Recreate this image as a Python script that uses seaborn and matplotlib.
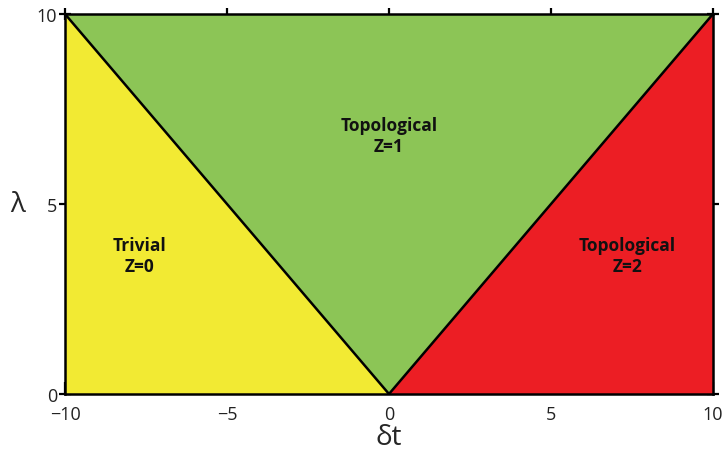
# Phase diagram: lambda vs delta t

import numpy as np
import matplotlib.pyplot as plt
import seaborn as sns

# phase regions (corners in data units)
trivial_x = [-10, -10, 0]
trivial_y = [0, 10, 0]
topo1_x = [-10, 10, 0]
topo1_y = [10, 10, 0]
topo2_x = [0, 10, 10]
topo2_y = [0, 10, 0]

# phase boundaries lambda = |delta t|
bound_x = [-10, 0, 10]
bound_y = [10, 0, 10]

labels = ["Trivial\nZ=0", "Topological\nZ=1", "Topological\nZ=2"]
label_x = [-7.7, 0.0, 7.35]
label_y = [3.65, 6.8, 3.65]

colors = ["#F2EA33", "#8CC556", "#EC1E24"]

sns.set_style("white")
plt.rcParams["font.family"] = ["Open Sans", "DejaVu Sans"]

fig = plt.figure(figsize=(7.25, 4.56), dpi=100)
ax = fig.add_axes([0.0897, 0.1338, 0.8937, 0.8332])

for xs, ys, c in zip([trivial_x, topo1_x, topo2_x], [trivial_y, topo1_y, topo2_y], colors):
    ax.fill(xs, ys, color=c, lw=0)

sns.lineplot(x=bound_x, y=bound_y, color="black", lw=1.8, sort=False, ax=ax)

for t, x, y in zip(labels, label_x, label_y):
    ax.text(x, y, t, ha="center", va="center", fontsize=12.5, fontweight="bold",
            linespacing=1.25, color="#111111")

ax.set_xlim(-10, 10)
ax.set_ylim(0, 10)
ax.set_xticks([-10, -5, 0, 5, 10])
ax.set_yticks([0, 5, 10])
ax.set_xticklabels(["\u221210", "\u22125", "0", "5", "10"])
for s in ax.spines.values():
    s.set_color("black")
    s.set_linewidth(1.8)
ax.tick_params(axis="both", labelsize=13, length=9, width=1.6, color="black",
               labelcolor="#222222")
ax.tick_params(axis="x", direction="in", top=True, bottom=True, pad=8)
ax.tick_params(axis="y", direction="inout", left=True, right=True, pad=1)
for tl in ax.xaxis.get_major_ticks():
    tl.tick2line.set_marker("|")
ax.set_xlabel("\u03b4t", fontsize=20, labelpad=0)
ax.set_ylabel("\u03bb", fontsize=20, rotation=0, labelpad=14, va="center")

fig.savefig("out.png", dpi=100)
